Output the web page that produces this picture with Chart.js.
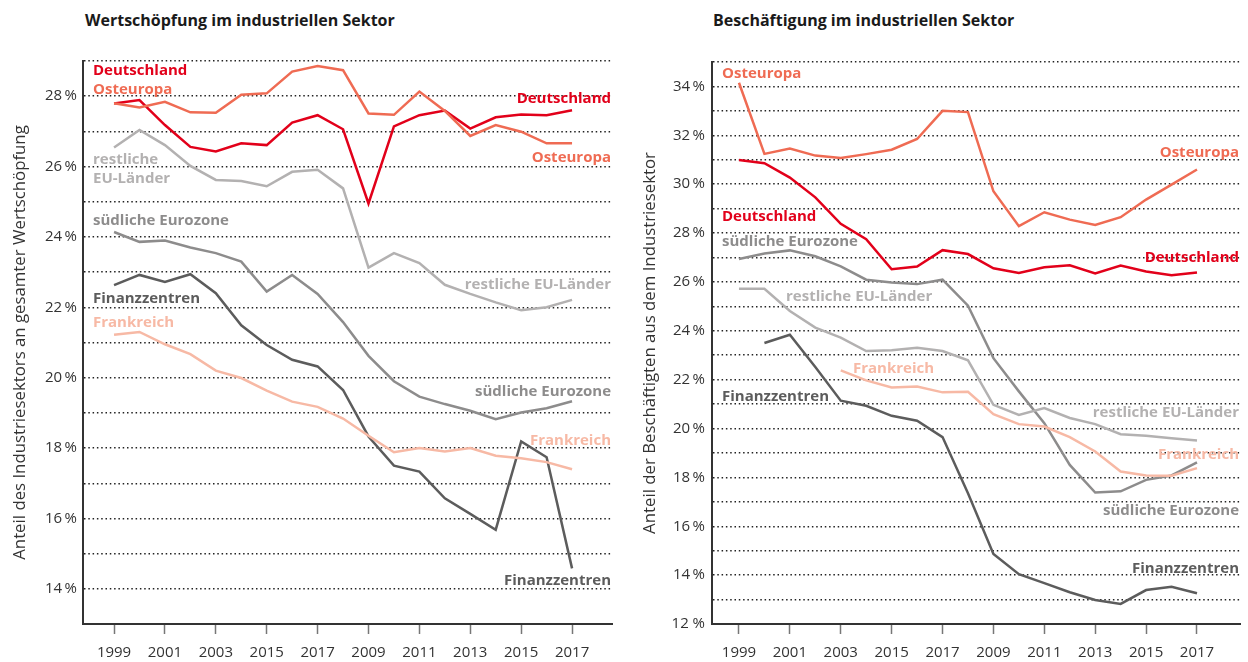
<!DOCTYPE html>
<html lang="de">
<head>
<meta charset="utf-8">
<title>Industrieller Sektor</title>
<script src="https://cdn.jsdelivr.net/npm/chart.js@4/dist/chart.umd.min.js"></script>
<style>
    body { margin: 0; background: #fff; width: 1248px; height: 662px; overflow: hidden; font-family: "Open Sans", sans-serif; }
    .titel { position: absolute; top: 8px; margin: 0; font-size: 16px; line-height: 24px; font-weight: 700; color: #1a1a1a; }
    canvas { position: absolute; top: 0; }
</style>
</head>
<body>
<h2 class="titel" style="left:85px">Wertschöpfung im industriellen Sektor</h2>
<h2 class="titel" style="left:713px">Beschäftigung im industriellen Sektor</h2>
<canvas id="links" width="624" height="662" style="left:0"></canvas>
<canvas id="rechts" width="624" height="662" style="left:624px"></canvas>
<script>
// Jahre und Achsenbeschriftung (so wie im Original beschriftet)
const JAHRE = [1999, 2000, 2001, 2002, 2003, 2004, 2005, 2006, 2007, 2008, 2009, 2010, 2011, 2012, 2013, 2014, 2015, 2016, 2017];
const TICK_JAHRE = [1999, 2001, 2003, 2005, 2007, 2009, 2011, 2013, 2015, 2017];
const TICK_TEXTE = ['1999', '2001', '2003', '2015', '2017', '2009', '2011', '2013', '2015', '2017'];

// Wertschöpfung (%)
const W_DEUTSCHLAND = [27.79, 27.89, 27.18, 26.56, 26.43, 26.66, 26.61, 27.25, 27.46, 27.06, 24.95, 27.14, 27.46, 27.59, 27.08, 27.40, 27.48, 27.46, 27.60];
const W_OSTEUROPA = [27.80, 27.68, 27.84, 27.54, 27.53, 28.04, 28.08, 28.70, 28.86, 28.74, 27.51, 27.47, 28.13, 27.58, 26.87, 27.18, 26.99, 26.66, 26.66];
const W_RESTEU = [26.54, 27.04, 26.61, 26.02, 25.62, 25.59, 25.44, 25.85, 25.91, 25.38, 23.13, 23.54, 23.26, 22.64, 22.38, 22.14, 21.92, 22.00, 22.21];
const W_SUED = [24.14, 23.86, 23.90, 23.70, 23.54, 23.30, 22.45, 22.92, 22.38, 21.58, 20.62, 19.90, 19.46, 19.25, 19.06, 18.82, 19.01, 19.13, 19.33];
const W_FINANZ = [22.63, 22.92, 22.72, 22.94, 22.40, 21.49, 20.93, 20.51, 20.32, 19.65, 18.33, 17.50, 17.33, 16.57, 16.13, 15.68, 18.19, 17.74, 14.58];
const W_FRANKREICH = [21.22, 21.30, 20.95, 20.67, 20.20, 19.99, 19.63, 19.32, 19.17, 18.84, 18.35, 17.88, 18.00, 17.90, 18.00, 17.78, 17.71, 17.60, 17.40];

// Beschäftigung (%)
const B_DEUTSCHLAND = [30.99, 30.86, 30.27, 29.46, 28.38, 27.75, 26.52, 26.63, 27.30, 27.14, 26.56, 26.37, 26.60, 26.68, 26.35, 26.67, 26.43, 26.27, 26.39];
const B_OSTEUROPA = [34.15, 31.24, 31.46, 31.17, 31.07, 31.23, 31.41, 31.85, 33.00, 32.95, 29.71, 28.28, 28.85, 28.55, 28.33, 28.65, 29.37, 29.98, 30.60];
const B_RESTEU = [25.72, 25.72, 24.81, 24.13, 23.72, 23.17, 23.20, 23.31, 23.17, 22.79, 20.97, 20.56, 20.84, 20.43, 20.18, 19.77, 19.70, 19.60, 19.51];
const B_SUED = [26.94, 27.16, 27.29, 27.05, 26.64, 26.09, 25.98, 25.91, 26.09, 25.03, 22.88, 21.52, 20.22, 18.51, 17.38, 17.43, 17.90, 18.08, 18.61];
const B_FINANZ = [null, 23.50, 23.84, 22.52, 21.14, 20.93, 20.52, 20.32, 19.65, 17.35, 14.87, 14.04, 13.67, 13.30, 12.98, 12.82, 13.39, 13.52, 13.26];
const B_FRANKREICH = [null, null, null, null, 22.38, 21.97, 21.68, 21.72, 21.48, 21.50, 20.59, 20.18, 20.08, 19.65, 19.06, 18.24, 18.08, 18.07, 18.38];

const ROT = '#e2001a';
const KORALLE = '#ef6b53';
const HELLGRAU = '#b3b1b1';
const MITTELGRAU = '#8d8c8c';
const DUNKELGRAU = '#5c5c5c';
const LACHS = '#f7b9a5';

const FONT = '"Open Sans", "Noto Sans", sans-serif';

// Beschriftungen direkt an den Linien: [text, farbe, x, y, ausrichtung] in Seitenpixeln
const LABELS_LINKS = [
    ['Deutschland', ROT, 93, 71, 'left'],
    ['Osteuropa', KORALLE, 93, 90, 'left'],
    ['restliche', HELLGRAU, 93, 160, 'left'],
    ['EU-Länder', HELLGRAU, 93, 179, 'left'],
    ['südliche Eurozone', MITTELGRAU, 93, 221, 'left'],
    ['Finanzzentren', DUNKELGRAU, 93, 299, 'left'],
    ['Frankreich', LACHS, 93, 323, 'left'],
    ['Deutschland', ROT, 611, 99, 'right'],
    ['Osteuropa', KORALLE, 611, 158, 'right'],
    ['restliche EU-Länder', HELLGRAU, 611, 285, 'right'],
    ['südliche Eurozone', MITTELGRAU, 611, 392, 'right'],
    ['Frankreich', LACHS, 611, 441, 'right'],
    ['Finanzzentren', DUNKELGRAU, 611, 581, 'right']
];
const LABELS_RECHTS = [
    ['Osteuropa', KORALLE, 722, 74, 'left'],
    ['Deutschland', ROT, 722, 217, 'left'],
    ['südliche Eurozone', MITTELGRAU, 722, 242, 'left'],
    ['restliche EU-Länder', HELLGRAU, 786, 297, 'left'],
    ['Frankreich', LACHS, 853, 369, 'left'],
    ['Finanzzentren', DUNKELGRAU, 722, 397, 'left'],
    ['Osteuropa', KORALLE, 1239, 153, 'right'],
    ['Deutschland', ROT, 1239, 258, 'right'],
    ['restliche EU-Länder', HELLGRAU, 1239, 413, 'right'],
    ['Frankreich', LACHS, 1239, 455, 'right'],
    ['südliche Eurozone', MITTELGRAU, 1239, 511, 'right'],
    ['Finanzzentren', DUNKELGRAU, 1239, 569, 'right']
];

function reihe(werte, farbe) {
    return {
        data: JAHRE.map((j, i) => ({ x: j, y: werte[i] })),
        borderColor: farbe,
        borderWidth: 2.5,
        pointRadius: 0,
        tension: 0,
        fill: false
    };
}

//Zeichnet die Namen an die Linien
function labelPlugin(labels, versatz) {
    return {
        id: 'linienNamen',
        afterDatasetsDraw(chart) {
            const ctx = chart.ctx;
            ctx.save();
            ctx.font = 'bold 15px ' + FONT;
            ctx.textBaseline = 'middle';
            labels.forEach(l => {
                ctx.fillStyle = l[1];
                ctx.textAlign = l[4];
                ctx.fillText(l[0], l[2] - versatz, l[3]);
            });
            ctx.restore();
        }
    };
}

function lijnGrafiek(id, reihen, opt) {
    const ctx = document.getElementById(id).getContext('2d');
    return new Chart(ctx, {
        type: 'line',
        data: { datasets: reihen },
        options: {
            responsive: false,
            animation: false,
            layout: { padding: { top: opt.oben, right: opt.rechts, left: 0, bottom: 0 } },
            plugins: { legend: { display: false }, tooltip: { enabled: false } },
            scales: {
                x: {
                    type: 'linear',
                    min: opt.xMin,
                    max: opt.xMax,
                    afterBuildTicks: s => { s.ticks = TICK_JAHRE.map(v => ({ value: v })); },
                    afterFit: s => { s.height = 38; },
                    ticks: {
                        autoSkip: false,
                        maxRotation: 0,
                        padding: 10,
                        color: '#333',
                        font: { family: FONT, size: 15 },
                        callback: (v, i) => TICK_TEXTE[i]
                    },
                    grid: { drawOnChartArea: false, drawTicks: true, tickLength: 10, tickColor: '#777', tickWidth: 1.5 },
                    border: { display: true, color: '#333', width: 2 }
                },
                y: {
                    min: opt.yMin,
                    max: opt.yMax,
                    afterFit: s => { s.width = opt.yBreite; },
                    ticks: {
                        stepSize: 1,
                        autoSkip: false,
                        padding: opt.tickAbstand,
                        color: '#333',
                        font: { family: FONT, size: 15 },
                        callback: v => {
                            if (v % 2 !== 0) return '';
                            return v === 12 ? '12 %' : v + '\u2009%';
                        }
                    },
                    grid: { color: '#222', lineWidth: 1.5, drawTicks: false },
                    border: { display: true, color: '#333', width: 2, dash: [1.5, 2.8] },
                    title: {
                        display: true,
                        text: opt.titel,
                        color: '#333',
                        font: { family: FONT, size: 16.8 },
                        padding: { top: opt.titelAbstand, bottom: 0 }
                    }
                }
            }
        },
        plugins: [labelPlugin(opt.labels, opt.versatz)]
    });
}

lijnGrafiek('links', [
    reihe(W_FRANKREICH, LACHS),
    reihe(W_RESTEU, HELLGRAU),
    reihe(W_SUED, MITTELGRAU),
    reihe(W_FINANZ, DUNKELGRAU),
    reihe(W_OSTEUROPA, KORALLE),
    reihe(W_DEUTSCHLAND, ROT)
], {
    oben: 61, rechts: 12, yBreite: 83, tickAbstand: 6, titelAbstand: 10,
    xMin: 1997.78, xMax: 2018.57, yMin: 13, yMax: 29,
    titel: 'Anteil des Industriesektors an gesamter Wertschöpfung',
    labels: LABELS_LINKS, versatz: 0
});

lijnGrafiek('rechts', [
    reihe(B_FRANKREICH, LACHS),
    reihe(B_RESTEU, HELLGRAU),
    reihe(B_SUED, MITTELGRAU),
    reihe(B_FINANZ, DUNKELGRAU),
    reihe(B_OSTEUROPA, KORALLE),
    reihe(B_DEUTSCHLAND, ROT)
], {
    oben: 62, rechts: 8, yBreite: 88, tickAbstand: 7, titelAbstand: 16,
    xMin: 1997.94, xMax: 2018.69, yMin: 12, yMax: 35,
    titel: 'Anteil der Beschäftigten aus dem Industriesektor',
    labels: LABELS_RECHTS, versatz: 624
});
</script>
</body>
</html>
